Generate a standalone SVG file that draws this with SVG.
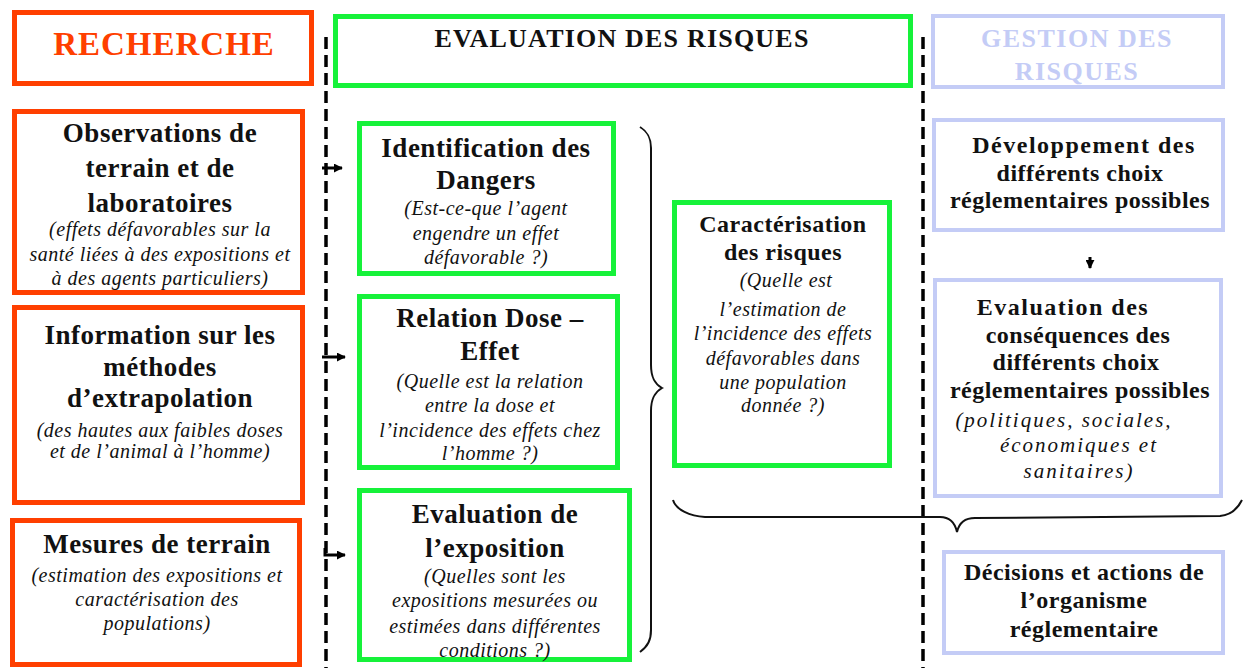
<svg xmlns="http://www.w3.org/2000/svg" width="1247" height="668" viewBox="0 0 1247 668">
<style>
text{font-family:"Liberation Serif","Times New Roman",serif;text-anchor:middle;fill:#111}
.h{font-weight:bold;font-size:27px;letter-spacing:0.5px}
.hr{font-weight:bold;font-size:24px;letter-spacing:0.5px}
.hc{font-weight:bold;font-size:24px;letter-spacing:0.5px}
.i{font-style:italic;font-size:20px;letter-spacing:0.5px}
.ir{font-style:italic;font-size:21px;letter-spacing:2px}
.or{fill:#fff;stroke:#FF3F00;stroke-width:5}
.gr{fill:#fff;stroke:#16F23A;stroke-width:5}
.lv{fill:#fff;stroke:#C4CCF6;stroke-width:4}
.dash{stroke:#000;stroke-width:3.5;stroke-dasharray:12 6;fill:none}
.brace{stroke:#111;stroke-width:2;fill:none}
.arr{stroke:#000;stroke-width:3;fill:none;marker-end:url(#ah)}
</style>
<defs>
<marker id="ah" viewBox="0 0 10 10" refX="9" refY="5" markerWidth="3" markerHeight="3" orient="auto" markerUnits="strokeWidth">
<path d="M0,0 L10,5 L0,10 z" fill="#000"/>
</marker>
</defs>
<rect width="1247" height="668" fill="#fff"/>

<g id="connectors">
<line class="dash" x1="326" y1="37" x2="326" y2="668"/>
<line class="dash" x1="923" y1="37" x2="923" y2="668"/>
<path class="arr" d="M322,168 L342,168"/>
<path class="arr" d="M322,357 L345,357"/>
<path class="arr" d="M325,548 L325,555 L345,555"/>
<path class="arr" d="M1090,257 L1090,268"/>
<path class="brace" d="M640,127 C648,132 651,138 651,148 L651,365 C651,378 655,384 662,388 C655,392 651,398 651,411 L651,630 C651,640 648,646 640,652"/>
<path class="brace" d="M673,500 C676,510 690,516 705,517 L940,517 C950,517 955,523 957,532 C959,523 964,518 975,518 L1220,516 C1232,515 1238,508 1242,500"/>
</g>

<g id="recherche">
<rect class="or" x="14.5" y="12.5" width="297" height="71"/>
<text x="164" y="55" style="font-size:33px;font-weight:bold;fill:#FF3F00;letter-spacing:1px">RECHERCHE</text>
</g>

<g id="evaluation-risques">
<rect class="gr" x="335.5" y="16.5" width="575" height="69"/>
<text x="622" y="47" style="font-size:26px;font-weight:bold;letter-spacing:1.2px">EVALUATION DES RISQUES</text>
</g>

<g id="gestion-risques">
<rect class="lv" x="933" y="16" width="290" height="71"/>
<text x="1077" y="47" style="font-size:26px;font-weight:bold;fill:#C4CCF6;letter-spacing:1.5px">GESTION DES</text>
<text x="1077" y="80" style="font-size:26px;font-weight:bold;fill:#C4CCF6;letter-spacing:1.5px">RISQUES</text>
</g>

<g id="observations">
<rect class="or" x="14.5" y="111.5" width="288" height="181"/>
<text class="h" x="160" y="142">Observations de</text>
<text class="h" x="160" y="177">terrain et de</text>
<text class="h" x="160" y="212">laboratoires</text>
<text class="i" x="160" y="236">(effets défavorables sur la</text>
<text class="i" x="160" y="261">santé liées à des expositions et</text>
<text class="i" x="160" y="285">à des agents particuliers)</text>
</g>

<g id="information">
<rect class="or" x="14.5" y="307.5" width="288" height="195"/>
<text class="h" x="160" y="344">Information sur les</text>
<text class="h" x="160" y="376">méthodes</text>
<text class="h" x="160" y="407">d’extrapolation</text>
<text class="i" x="160" y="437">(des hautes aux faibles doses</text>
<text class="i" x="160" y="458">et de l’animal à l’homme)</text>
</g>

<g id="mesures">
<rect class="or" x="12.5" y="520.5" width="287" height="144"/>
<text class="h" x="157" y="553">Mesures de terrain</text>
<text class="i" x="157" y="582">(estimation des expositions et</text>
<text class="i" x="157" y="606">caractérisation des</text>
<text class="i" x="157" y="630">populations)</text>
</g>

<g id="identification">
<rect class="gr" x="359.5" y="123.5" width="254" height="150"/>
<text class="h" x="486" y="157">Identification des</text>
<text class="h" x="486" y="189">Dangers</text>
<text class="i" x="486" y="215">(Est-ce-que l’agent</text>
<text class="i" x="486" y="240">engendre un effet</text>
<text class="i" x="486" y="264">défavorable ?)</text>
</g>

<g id="relation">
<rect class="gr" x="359.5" y="296.5" width="258" height="171"/>
<text class="h" x="490" y="327">Relation Dose –</text>
<text class="h" x="490" y="360">Effet</text>
<text class="i" x="490" y="388">(Quelle est la relation</text>
<text class="i" x="490" y="412">entre la dose et</text>
<text class="i" x="490" y="437">l’incidence des effets chez</text>
<text class="i" x="490" y="460">l’homme ?)</text>
</g>

<g id="exposition">
<rect class="gr" x="359.5" y="490.5" width="270" height="169"/>
<text class="h" x="495" y="523">Evaluation de</text>
<text class="h" x="495" y="557">l’exposition</text>
<text class="i" x="495" y="583">(Quelles sont les</text>
<text class="i" x="495" y="607">expositions mesurées ou</text>
<text class="i" x="495" y="633">estimées dans différentes</text>
<text class="i" x="495" y="657">conditions ?)</text>
</g>

<g id="caracterisation">
<rect class="gr" x="674.5" y="202.5" width="215" height="263"/>
<text class="hc" x="783" y="232">Caractérisation</text>
<text class="hc" x="783" y="260">des risques</text>
<text class="i" x="786" y="287">(Quelle est</text>
<text class="i" x="783" y="316">l’estimation de</text>
<text class="i" x="783" y="340">l’incidence des effets</text>
<text class="i" x="783" y="365">défavorables dans</text>
<text class="i" x="783" y="389">une population</text>
<text class="i" x="783" y="412">donnée ?)</text>
</g>

<g id="developpement">
<rect class="lv" x="934" y="120" width="289" height="110"/>
<text class="hr" x="1084" y="153" style="letter-spacing:1.5px">Développement des</text>
<text class="hr" x="1080" y="181">différents choix</text>
<text class="hr" x="1080" y="208">réglementaires possibles</text>
</g>

<g id="consequences">
<rect class="lv" x="935" y="280" width="286" height="216"/>
<text class="hr" x="1063" y="315" style="letter-spacing:1.5px">Evaluation des</text>
<text class="hr" x="1078" y="343">conséquences des</text>
<text class="hr" x="1076" y="370">différents choix</text>
<text class="hr" x="1080" y="398">réglementaires possibles</text>
<text class="ir" x="1064" y="427">(politiques, sociales,</text>
<text class="ir" x="1079" y="452">économiques et</text>
<text class="ir" x="1079" y="478">sanitaires)</text>
</g>

<g id="decisions">
<rect class="lv" x="944" y="552" width="279" height="101"/>
<text class="hr" x="1084" y="580">Décisions et actions de</text>
<text class="hr" x="1084" y="608">l’organisme</text>
<text class="hr" x="1084" y="637">réglementaire</text>
</g>
</svg>
